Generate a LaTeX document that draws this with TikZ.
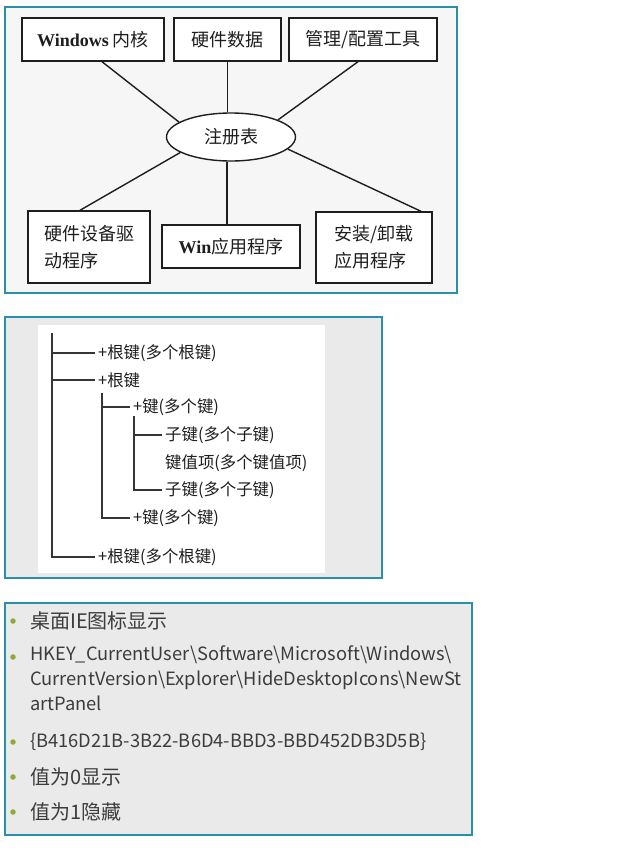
\documentclass[tikz,border=0pt]{standalone}
\usepackage{fontspec}
\setmainfont{Noto Sans CJK SC}
\newfontfamily\latserif{Liberation Serif}
\usetikzlibrary{shapes.geometric}
\definecolor{Frame}{HTML}{2A8FA8}
\definecolor{Ink}{HTML}{1E1E1E}
\definecolor{Paper}{HTML}{F6F6F6}
\definecolor{Slide}{HTML}{E9EAE9}
\definecolor{SlideText}{HTML}{3C3C3C}
\definecolor{Bullet}{HTML}{8BAB3A}
\tikzset{
    frame/.style={draw=Frame, line width=1.2pt},
    partbox/.style={rectangle, draw=Ink, line width=1.4pt, fill=white, text=Ink, align=left, inner sep=0pt, font=\fontsize{18}{27}\selectfont},
    regnode/.style={ellipse, draw=Ink, line width=1.4pt, fill=white, text=Ink, inner sep=0pt, minimum width=129pt, minimum height=48pt, font=\fontsize{18}{22}\selectfont},
    link/.style={draw=Ink, line width=1.4pt},
    keytext/.style={anchor=west, inner sep=3pt, text=Ink, font=\fontsize{16.4}{18}\selectfont},
    treeline/.style={draw=Ink!90, line width=1.4pt},
    bulletdot/.style={circle, fill=Bullet, inner sep=0pt, minimum size=5.5pt},
    itemtext/.style={anchor=west, inner sep=0pt, text=SlideText, align=left, font=\fontsize{20}{25}\selectfont},
    pathtext/.style={itemtext, font=\fontsize{18.3}{25}\selectfont},
}

\begin{document}
\begin{tikzpicture}[x=1pt, y=-1pt]
    \useasboundingbox (0,0) rectangle (623,854);
    \fill[white] (0,0) rectangle (623,854);

    % Bild 1: Registry und Komponenten
    \filldraw[frame, fill=Paper] (5,7) rectangle (457,293);
    \node[partbox, minimum width=142pt, minimum height=43pt] (kern) at (93,39.5) {{\latserif\bfseries Windows} 内核};
    \node[partbox, minimum width=107pt, minimum height=43pt] (hwdata) at (227.5,39.5) {硬件数据};
    \node[partbox, minimum width=148pt, minimum height=43pt] (tools) at (363,39.5) {管理/配置工具};
    \node[regnode] (reg) at (231,137) {注册表};
    \node[partbox, minimum width=122pt, minimum height=72pt] (driver) at (89,247) {硬件设备驱\\动程序};
    \node[partbox, minimum width=138pt, minimum height=43pt] (winapp) at (231,246.5) {{\latserif\bfseries Win}应用程序};
    \node[partbox, minimum width=116pt, minimum height=71pt] (setup) at (374,247.5) {安装/卸载\\应用程序};

    \draw[link] ([xshift=9pt]kern.south) -- (reg.164);
    \draw[link] (hwdata.south) -- (hwdata.south |- reg.north);
    \draw[link] ([xshift=-5pt]tools.south) -- (reg.20);
    \draw[link] ([xshift=-9pt]driver.north) -- (reg.197);
    \draw[link] ([xshift=-4pt]winapp.north) -- ([xshift=-4pt]reg.south);
    \draw[link] ([xshift=47pt]setup.north) -- (reg.-12);

    % Bild 2: Baumstruktur der Schluessel
    \filldraw[frame, fill=Slide] (5,317) rectangle (382,578);
    \fill[white] (38,325) rectangle (325,573);
    \node[keytext] (root1) at (95,353) {+根键(多个根键)};
    \node[keytext] (root2) at (95,380) {+根键};
    \node[keytext] (key1) at (130,407) {+键(多个键)};
    \node[keytext] (sub1) at (162,435) {子键(多个子键)};
    \node[keytext] (val) at (162,463) {键值项(多个键值项)};
    \node[keytext] (sub2) at (162,490) {子键(多个子键)};
    \node[keytext] (key2) at (130,518) {+键(多个键)};
    \node[keytext] (root3) at (95,557) {+根键(多个根键)};

    \coordinate (trunk) at (52,333);
    \coordinate (branch) at (102,393);
    \coordinate (twig) at (134,416);
    \draw[treeline] (trunk) |- (root3.west);
    \draw[treeline] (trunk |- root1.west) -- (root1.west);
    \draw[treeline] (trunk |- root2.west) -- (root2.west);
    \draw[treeline] (branch) |- (key2.west);
    \draw[treeline] (branch |- key1.west) -- (key1.west);
    \draw[treeline] (twig) |- (sub2.west);
    \draw[treeline] (twig |- sub1.west) -- (sub1.west);

    % Bild 3: Folie mit Stichpunkten
    \filldraw[frame, fill=Slide] (5,603) rectangle (472,835);
    \node[bulletdot] (dot1) at (13,621) {};
    \node[itemtext] (item1) at (30,621) {桌面IE图标显示};
    \node[bulletdot] (dot2) at (13,657) {};
    \node[pathtext, anchor=north west] (item2) at (30,645) {HKEY\_CurrentUser\textbackslash Software\textbackslash Microsoft\textbackslash Windows\textbackslash\\CurrentVersion\textbackslash Explorer\textbackslash HideDesktopIcons\textbackslash NewSt\\artPanel};
    \node[bulletdot] (dot3) at (13,742) {};
    \node[pathtext] (item3) at (30,742) {\{B416D21B-3B22-B6D4-BBD3-BBD452DB3D5B\}};
    \node[bulletdot] (dot4) at (13,777) {};
    \node[itemtext] (item4) at (30,777) {值为0显示};
    \node[bulletdot] (dot5) at (13,812) {};
    \node[itemtext] (item5) at (30,812) {值为1隐藏};
\end{tikzpicture}
\end{document}
